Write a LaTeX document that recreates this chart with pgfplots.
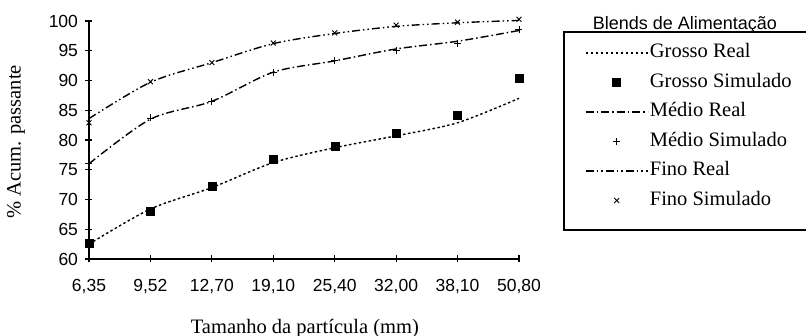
\documentclass[border=0pt]{standalone}
\usepackage{fontspec}
\setmainfont{Liberation Serif}
\newfontfamily\sansf{Liberation Sans}
\usepackage{pgfplots}
\pgfplotsset{compat=1.18}
\pgfplotsset{
  legline/.style={legend image code/.code={\draw[##1] (0pt,0pt) -- (62pt,0pt);}},
  legmark/.style={legend image code/.code={\draw[##1] plot coordinates {(31pt,0pt)};}},
}
\pgfplotstableread{
x gr gs mr ms fr fs
0 62.5 62.7 76.0 76.0 83.6 82.9
1 68.4 68.0 83.5 83.7 89.7 89.8
2 72.0 72.2 86.5 86.5 93.0 93.0
3 76.2 76.8 91.4 91.4 96.2 96.3
4 78.7 79.0 93.3 93.3 97.9 98.0
5 80.7 81.2 95.3 95.1 99.1 99.3
6 82.9 84.2 96.6 96.3 99.7 99.8
7 87.0 90.4 98.4 98.5 100.1 100.3
}\data
\begin{document}
\begin{tikzpicture}
\useasboundingbox (-89pt,-77pt) rectangle (717pt,259pt);
\begin{axis}[
  scale only axis, width=430pt, height=238pt,
  xmin=0, xmax=7, ymin=60, ymax=100,
  axis x line=bottom, axis y line=left,
  axis line style={-, line width=1.3pt},
  clip=false,
  xtick={0,...,7},
  xticklabels={{6,35},{9,52},{12,70},{19,10},{25,40},{32,00},{38,10},{50,80}},
  ytick={60,65,...,100},
  tick align=center, major tick length=7pt,
  tick style={line width=1.1pt, black},
  /pgf/number format/assume math mode=true,
  ticklabel style={font=\sansf\fontsize{17.5}{18}\selectfont},
  xticklabel style={yshift=-13pt},
  yticklabel style={xshift=-4pt},
  xlabel={Tamanho da partícula (mm)},
  xlabel style={font=\fontsize{20.5}{22}\selectfont, at={(axis description cs:0.502,-0.311)}, anchor=base},
  ylabel={\% Acum. passante},
  ylabel style={font=\fontsize{20.5}{22}\selectfont, at={(axis description cs:-0.170,0.4916)}, anchor=center, rotate=0},
  legend style={draw=none, fill=none, at={(axis description cs:1.146,0.920)}, anchor=north west,
    font=\fontsize{20.5}{22}\selectfont, row sep=8pt,
    nodes={inner sep=1.5pt, text height=14pt, text depth=4.5pt}},
  legend cell align=left,
]
\addplot[black, line width=1.4pt, dash pattern=on 2.5pt off 2.5pt, smooth, tension=0.5, legline] table[x=x,y=gr]{\data};
\addlegendentry{Grosso Real}
\addplot[black, only marks, mark=square*, mark size=4pt, legmark] table[x=x,y=gs]{\data};
\addlegendentry{Grosso Simulado}
\addplot[black, line width=1.4pt, dash pattern=on 8pt off 3pt on 1.5pt off 3pt, smooth, tension=0.5, legline] table[x=x,y=mr]{\data};
\addlegendentry{Médio Real}
\addplot[black, only marks, mark=+, mark size=3.5pt, line width=0.9pt, legmark] table[x=x,y=ms]{\data};
\addlegendentry{Médio Simulado}
\addplot[black, line width=1.4pt, dash pattern=on 8pt off 3pt on 1.5pt off 3pt on 1.5pt off 3pt, smooth, tension=0.5, legline] table[x=x,y=fr]{\data};
\addlegendentry{Fino Real}
\addplot[black, only marks, mark=x, mark size=3.5pt, line width=0.9pt, legmark] table[x=x,y=fs]{\data};
\addlegendentry{Fino Simulado}
\draw[line width=1.2pt] (axis description cs:1.6767,0.9538) -- (axis description cs:1.1047,0.9538) -- (axis description cs:1.1047,0.1218) -- (axis description cs:1.6767,0.1218);
\node[font=\sansf\fontsize{18}{20}\selectfont, anchor=base] at (axis description cs:1.386,0.9622) {Blends de Alimentação};
\end{axis}
\end{tikzpicture}
\end{document}
